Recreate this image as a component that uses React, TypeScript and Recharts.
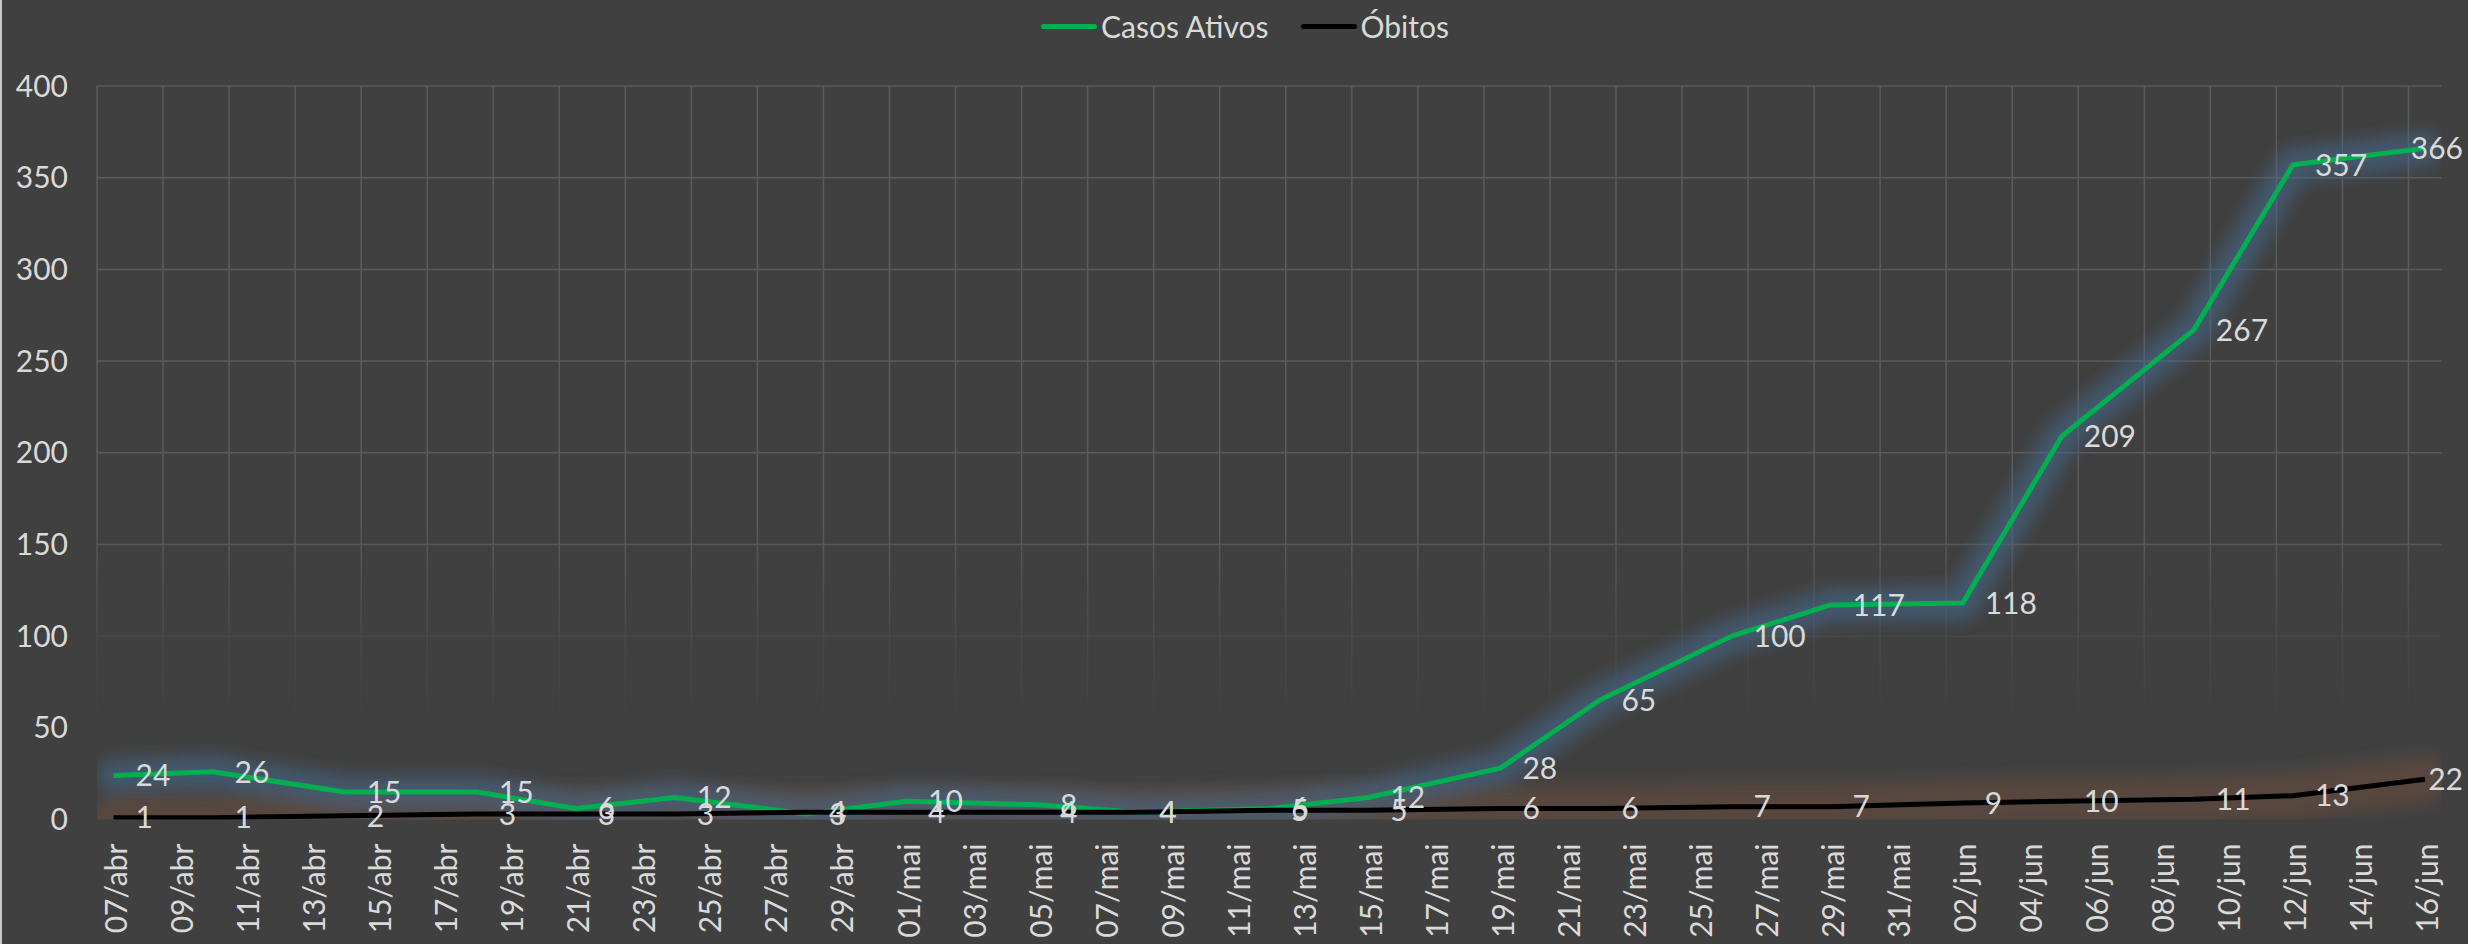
import React from 'react';
import { LineChart, Line, XAxis, YAxis, CartesianGrid, LabelList } from 'recharts';

const W = 2468;
const H = 944;
const FONT = 'Lato, "Open Sans", sans-serif';
const TEXT = '#d9d9d9';
const FS = 30;

const tickLabels = [
  '07/abr', '09/abr', '11/abr', '13/abr', '15/abr', '17/abr', '19/abr', '21/abr', '23/abr', '25/abr', '27/abr', '29/abr',
  '01/mai', '03/mai', '05/mai', '07/mai', '09/mai', '11/mai', '13/mai', '15/mai', '17/mai', '19/mai', '21/mai', '23/mai',
  '25/mai', '27/mai', '29/mai', '31/mai', '02/jun', '04/jun', '06/jun', '08/jun', '10/jun', '12/jun', '14/jun', '16/jun',
];

const pointDates = [
  '07/abr', '10/abr', '14/abr', '18/abr', '21/abr', '24/abr', '28/abr', '01/mai', '05/mai', '08/mai', '12/mai',
  '15/mai', '19/mai', '22/mai', '26/mai', '29/mai', '02/jun', '05/jun', '09/jun', '12/jun', '16/jun',
];
const casosAtivos = [24, 26, 15, 15, 6, 12, 3, 10, 8, 4, 6, 12, 28, 65, 100, 117, 118, 209, 267, 357, 366];
const obitos = [1, 1, 2, 3, 3, 3, 4, 4, 4, 4, 5, 5, 6, 6, 7, 7, 9, 10, 11, 13, 22];

const yTicks = [0, 50, 100, 150, 200, 250, 300, 350, 400];

const monthIdx: Record<string, number> = { abr: 3, mai: 4, jun: 5 };
const dayIndex = (s: string) => {
  const [d, m] = s.split('/');
  return Math.round((Date.UTC(2020, monthIdx[m], Number(d)) - Date.UTC(2020, 3, 7)) / 86400000);
};

const data = pointDates.map((d, i) => ({ date: d, x: dayIndex(d), casos: casosAtivos[i], obitos: obitos[i] }));
const xTicks = tickLabels.map(dayIndex);
const lastDay = dayIndex(tickLabels[tickLabels.length - 1]);
const gridBounds = xTicks.map((t) => t - 0.5);
const labelFor: Record<number, string> = {};
tickLabels.forEach((l) => { labelFor[dayIndex(l)] = l; });

const XTick = (props: any) => {
  const { x, y, payload } = props;
  return (
    <text
      x={-24}
      y={0}
      dy="0.45em"
      transform={`translate(${x},${y}) rotate(-90)`}
      textAnchor="end"
      fill={TEXT}
      fontSize={FS}
      fontFamily={FONT}
    >
      {labelFor[payload.value]}
    </text>
  );
};

const makeLabel = (lastIndex: number) => (props: any) => {
  const { x, y, value, index } = props;
  const isLast = index === lastIndex;
  return (
    <text
      x={isLast ? x + 38 : x + 22}
      y={y}
      dy="0.36em"
      textAnchor={isLast ? 'end' : 'start'}
      fill={TEXT}
      fontSize={FS}
      fontFamily={FONT}
    >
      {value}
    </text>
  );
};

const vGen = (args: any) => {
  const { xAxis, offset } = args || {};
  if (xAxis && typeof xAxis.scale === 'function') {
    return gridBounds.map((b) => xAxis.scale(b));
  }
  return gridBounds.map((b) => offset.left + ((b + 0.5) / (lastDay + 1)) * offset.width);
};

export default function App() {
  const last = data.length - 1;
  return (
    <div style={{ position: 'absolute', left: 0, top: 0, width: W, height: H, background: '#404040', fontFamily: FONT, overflow: 'hidden' }}>
      <div style={{ position: 'absolute', left: 0, top: 0, width: 2, height: H, background: '#c8c8c8' }} />
      <LineChart width={W} height={H} data={data} margin={{ top: 86, right: 26.5, bottom: 0, left: 0 }}>
        <defs>
          <linearGradient id="gridFade" gradientUnits="userSpaceOnUse" x1="0" y1="86" x2="0" y2="819.5">
            <stop offset="0" stopColor="#5a5a5a" stopOpacity={1} />
            <stop offset="0.6" stopColor="#5a5a5a" stopOpacity={1} />
            <stop offset="0.74" stopColor="#5a5a5a" stopOpacity={0.35} />
            <stop offset="0.87" stopColor="#5a5a5a" stopOpacity={0} />
            <stop offset="1" stopColor="#5a5a5a" stopOpacity={0} />
          </linearGradient>
          <filter id="glowBlur" filterUnits="userSpaceOnUse" x="97" y="0" width="2371" height="823">
            <feGaussianBlur stdDeviation="8" />
          </filter>
        </defs>
        <CartesianGrid stroke="url(#gridFade)" strokeWidth={1.5} verticalCoordinatesGenerator={vGen} />
        <XAxis
          dataKey="x"
          type="number"
          domain={[-0.5, lastDay + 0.5]}
          ticks={xTicks}
          interval={0}
          height={124.5}
          tickLine={false}
          axisLine={false}
          tickSize={0}
          tickMargin={0}
          tick={<XTick />}
          allowDataOverflow
        />
        <YAxis
          domain={[0, 400]}
          ticks={yTicks}
          interval={0}
          width={97}
          tickLine={false}
          axisLine={false}
          tickSize={0}
          tickMargin={29}
          tick={{ fill: TEXT, fontSize: FS, fontFamily: FONT }}
          allowDataOverflow
        />
        <Line dataKey="obitos" stroke="#684c3a" strokeOpacity={0.6} strokeWidth={48} strokeLinejoin="round" strokeLinecap="round" dot={false} activeDot={false} isAnimationActive={false} filter="url(#glowBlur)" legendType="none" />
        <Line dataKey="casos" stroke="#466a90" strokeOpacity={0.55} strokeWidth={34} strokeLinejoin="round" strokeLinecap="round" dot={false} activeDot={false} isAnimationActive={false} filter="url(#glowBlur)" legendType="none" />
        <Line dataKey="casos" name="Casos Ativos" stroke="#00b050" strokeWidth={5} strokeLinejoin="round" dot={false} activeDot={false} isAnimationActive={false} />
        <Line dataKey="obitos" name="Óbitos" stroke="#000000" strokeWidth={5} strokeLinejoin="round" dot={false} activeDot={false} isAnimationActive={false} />
        <Line dataKey="casos" stroke="none" dot={false} activeDot={false} isAnimationActive={false} legendType="none">
          <LabelList dataKey="casos" content={makeLabel(last)} />
        </Line>
        <Line dataKey="obitos" stroke="none" dot={false} activeDot={false} isAnimationActive={false} legendType="none">
          <LabelList dataKey="obitos" content={makeLabel(last)} />
        </Line>
      </LineChart>
      <div style={{ position: 'absolute', left: 11, top: 0, width: W, height: 52, display: 'flex', alignItems: 'center', justifyContent: 'center', color: TEXT, fontSize: FS, fontFamily: FONT }}>
        <div style={{ width: 56, height: 5, borderRadius: 3, background: '#00b050', marginRight: 4 }} />
        <span>Casos Ativos</span>
        <div style={{ width: 56, height: 5, borderRadius: 3, background: '#000000', marginLeft: 32, marginRight: 4 }} />
        <span>Óbitos</span>
      </div>
    </div>
  );
}
